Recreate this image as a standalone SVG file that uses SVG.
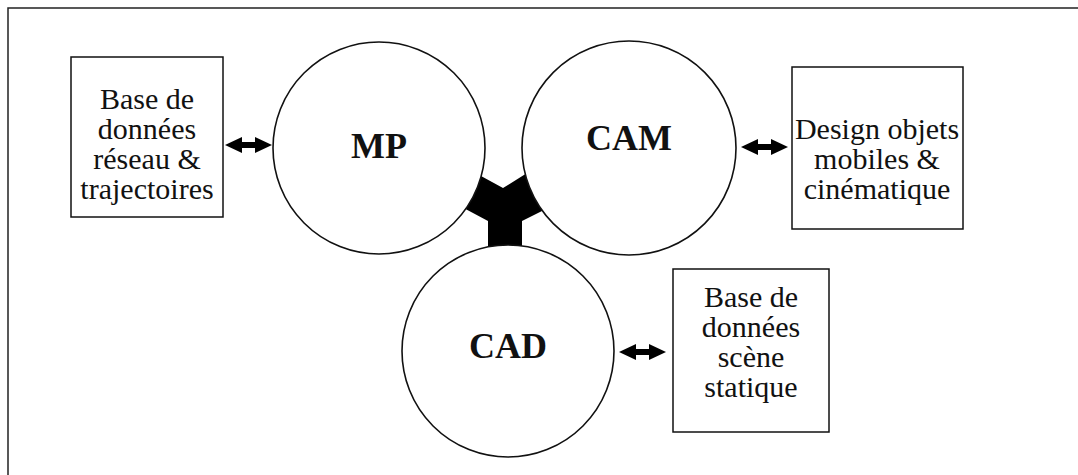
<svg xmlns="http://www.w3.org/2000/svg" width="1078" height="475" viewBox="0 0 1078 475">
<style>
.frame{fill:none;stroke:#222;stroke-width:1.5}
.box{fill:#fff;stroke:#111;stroke-width:1.5}
.circ{fill:#fff;stroke:#111;stroke-width:1.6}
.t{font-family:"Liberation Serif","Times New Roman",serif;font-size:30px;fill:#111;text-anchor:middle}
.b{font-family:"Liberation Serif","Times New Roman",serif;font-size:36px;font-weight:bold;fill:#111;text-anchor:middle}
.arr{fill:#000}
</style>
<defs>
<path id="dbl" d="M0,0 L17,-8 L17,-3 L30,-3 L30,-8 L47,0 L30,8 L30,3 L17,3 L17,8 Z"/>
</defs>
<rect width="1078" height="475" fill="#fff"/>
<path class="frame" d="M8,475 L8,8 L1078,8"/>
<g id="connectors">
<polygon class="arr" points="470,170 503,188 535,168 552,206 522,221 522,252 488,252 488,221 458,205"/>
<use href="#dbl" class="arr" x="225" y="145"/>
<use href="#dbl" class="arr" x="741" y="147"/>
<use href="#dbl" class="arr" x="619" y="352"/>
</g>
<g id="node-mp">
<circle class="circ" cx="379" cy="148" r="106"/>
<text class="b" x="379" y="158">MP</text>
</g>
<g id="node-cam">
<circle class="circ" cx="629" cy="148" r="107"/>
<text class="b" x="629" y="150">CAM</text>
</g>
<g id="node-cad">
<circle class="circ" cx="508" cy="351" r="106"/>
<text class="b" x="508" y="358">CAD</text>
</g>
<g id="box-reseau">
<rect class="box" x="71" y="57" width="152" height="160"/>
<text class="t" x="147" y="109">Base de</text>
<text class="t" x="147" y="139">données</text>
<text class="t" x="147" y="169">réseau &amp;</text>
<text class="t" x="147" y="199">trajectoires</text>
</g>
<g id="box-design">
<rect class="box" x="792" y="67" width="171" height="162"/>
<text class="t" x="877" y="139">Design objets</text>
<text class="t" x="877" y="169">mobiles &amp;</text>
<text class="t" x="877" y="199">cinématique</text>
</g>
<g id="box-scene">
<rect class="box" x="673" y="269" width="156" height="163"/>
<text class="t" x="751" y="307">Base de</text>
<text class="t" x="751" y="337">données</text>
<text class="t" x="751" y="367">scène</text>
<text class="t" x="751" y="397">statique</text>
</g>
</svg>
